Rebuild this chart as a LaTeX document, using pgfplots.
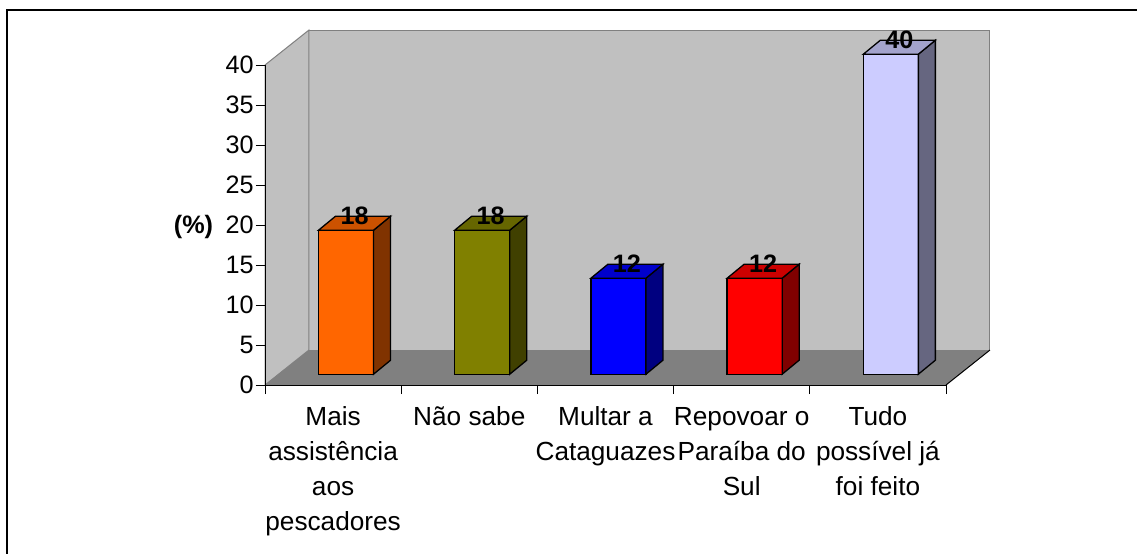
\documentclass[border=0pt]{standalone}
\usepackage{pgfplots}
\pgfplotsset{compat=1.18}
\usepackage{pgfplotstable}
\usepackage{fontspec}
\setmainfont{Liberation Sans}

\definecolor{wall}{HTML}{C0C0C0}
\definecolor{floorc}{HTML}{808080}
\definecolor{edgec}{HTML}{808080}
\definecolor{front0}{HTML}{FF6600}\definecolor{side0}{HTML}{803300}\definecolor{top0}{HTML}{CC5200}
\definecolor{front1}{HTML}{808000}\definecolor{side1}{HTML}{404000}\definecolor{top1}{HTML}{666600}
\definecolor{front2}{HTML}{0000FF}\definecolor{side2}{HTML}{000080}\definecolor{top2}{HTML}{0000CC}
\definecolor{front3}{HTML}{FF0000}\definecolor{side3}{HTML}{800000}\definecolor{top3}{HTML}{CC0000}
\definecolor{front4}{HTML}{CCCCFF}\definecolor{side4}{HTML}{666680}\definecolor{top4}{HTML}{A3A3CC}

\pgfplotstableread{
x v
0 18
1 18
2 12
3 12
4 40
}\datatable

\newcommand\fs{\fontsize{12.6}{17.5}\selectfont}
\newcommand\fc{\fontsize{13.1}{17.5}\selectfont}

\begin{document}
\begin{tikzpicture}
\useasboundingbox (0,0) rectangle (568.5pt,276.5pt);
\clip (0,0) rectangle (568.5pt,276.5pt);
\fill[white] (0,0) rectangle (568.5pt,276.5pt);
\draw[line width=1pt] (3.25pt,-5pt) rectangle (580pt,271.5pt);
\begin{axis}[
  at={(132.5pt,84pt)}, anchor=south west,
  scale only axis, width=340.5pt, height=160pt,
  xmin=-0.5, xmax=4.5, ymin=0, ymax=40,
  clip=false, axis on top,
  axis x line*=bottom, axis y line*=left,
  axis line style={line width=0.5pt, black},
  ytick={0,5,...,40},
  xtick={-0.5,0.5,...,4.5},
  xticklabels={},
  extra x ticks={0,1,2,3,4},
  extra x tick labels={{Mais\\assistência\\aos\\pescadores},{Não sabe},{Multar a\\Cataguazes},{Repovoar o\\Paraíba do\\Sul},{Tudo\\possível já\\foi feito}},
  extra x tick style={major tick length=0pt,
     xticklabel style={anchor=north, inner sep=0pt, align=center, font=\fc, yshift=-10.8pt}},
  tick align=outside,
  major tick length=4.5pt,
  tick style={black, line width=0.5pt},
  yticklabel style={font=\fs, inner sep=1pt},
  /pgf/number format/assume math mode=true,
]
% back wall, side wall, floor
\addplot[fill=wall, draw=edgec, line width=0.5pt] coordinates {(-0.177,4.375) (4.823,4.375) (4.823,44.375) (-0.177,44.375)} -- cycle;
\addplot[fill=wall, draw=edgec, line width=0.5pt] coordinates {(-0.5,0) (-0.177,4.375) (-0.177,44.375) (-0.5,40)} -- cycle;
\addplot[fill=floorc, draw=none] coordinates {(-0.5,0) (4.5,0) (4.823,4.375) (-0.177,4.375)} -- cycle;
\addplot[black, line width=0.5pt] coordinates {(4.5,0) (4.823,4.375)};
% bars
\pgfplotsforeachungrouped \i in {0,...,4}{%
  \pgfplotstablegetelem{\i}{v}\of\datatable
  \let\v\pgfplotsretval
  \pgfmathsetmacro\fl{\i-0.107}%
  \pgfmathsetmacro\fr{\i+0.297}%
  \pgfmathsetmacro\bl{\fl+0.125}%
  \pgfmathsetmacro\br{\fr+0.125}%
  \pgfmathsetmacro\yb{1.35}%
  \pgfmathsetmacro\yt{\v+1.35}%
  \pgfmathsetmacro\ybb{1.35+1.75}%
  \pgfmathsetmacro\ytb{\v+1.35+1.75}%
  \edef\temp{%
    \noexpand\addplot[fill=front\i, draw=black, line width=0.65pt] coordinates {(\fl,\yb) (\fr,\yb) (\fr,\yt) (\fl,\yt)} -- cycle;
    \noexpand\addplot[fill=side\i, draw=black, line width=0.65pt] coordinates {(\fr,\yb) (\br,\ybb) (\br,\ytb) (\fr,\yt)} -- cycle;
    \noexpand\addplot[fill=top\i, draw=black, line width=0.65pt] coordinates {(\fl,\yt) (\fr,\yt) (\br,\ytb) (\bl,\ytb)} -- cycle;
  }\temp
}
% value labels
\addplot[draw=none, mark=none, nodes near coords, point meta=explicit,
  nodes near coords style={anchor=base, font=\fs\bfseries, inner sep=0pt}]
  table[x expr=\thisrow{x}+0.1575, y expr=\thisrow{v}+2.1, meta=v]{\datatable};
\node[font=\fs\bfseries, anchor=base] at (axis cs:-1.025,18.9) {(\%)};
\end{axis}
\end{tikzpicture}
\end{document}
